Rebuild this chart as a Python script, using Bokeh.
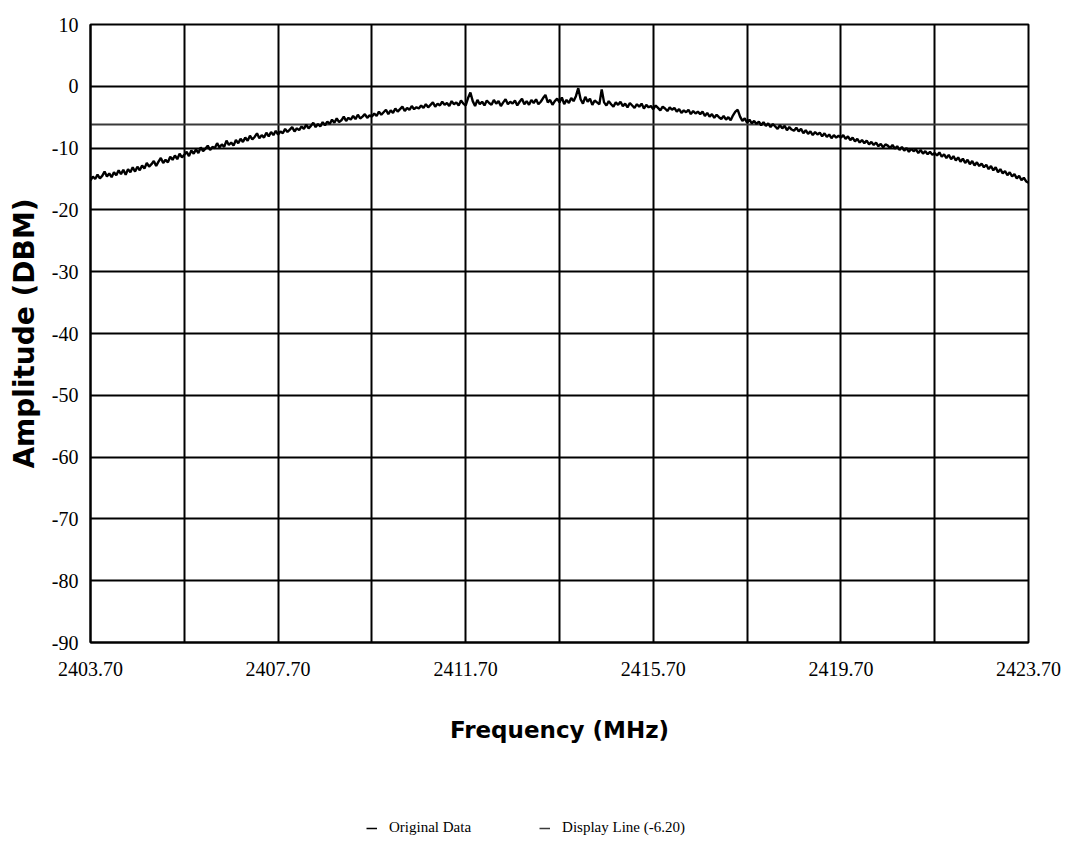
import numpy as np
from bokeh.plotting import figure
from bokeh.layouts import column
from bokeh.models import FixedTicker, Legend, LegendItem, Range1d
from bokeh.embed import file_html
from bokeh.resources import INLINE

# Sweep settings of the analyzer (MHz)
freq_start = 2403.70
freq_stop = 2423.70
freq_step = 0.05

# Measured amplitude (dBm), one reading per sweep point, 1 MHz per row
amplitude = [
    -15.2, -14.6, -15.0, -14.3, -14.9, -14.5, -13.8, -14.6, -14.1, -14.7, -13.9, -14.4, -13.6, -14.2, -13.5, -14.3, -13.4, -13.9, -13.1, -13.8,
    -13.0, -13.6, -12.8, -13.3, -12.4, -13.0, -12.6, -12.1, -12.9, -12.2, -11.6, -12.4, -11.9, -12.3, -11.4, -11.9, -11.2, -11.8, -10.9, -11.5,
    -11.1, -10.6, -11.3, -10.4, -10.9, -10.2, -10.8, -9.9, -10.5, -10.1, -9.6, -10.3, -9.8, -10.0, -9.2, -9.9, -9.4, -9.8, -8.8, -9.5,
    -9.1, -9.6, -8.7, -9.2, -8.5, -9.0, -8.3, -8.8, -8.0, -8.6, -8.2, -7.6, -8.4, -7.9, -8.3, -7.5, -8.1, -7.4, -7.9, -7.2,
    -7.8, -7.3, -7.6, -6.9, -7.4, -7.0, -6.6, -7.3, -6.8, -7.1, -6.5, -6.9, -6.2, -6.8, -6.4, -5.9, -6.6, -6.1, -6.5, -5.8,
    -6.3, -5.7, -6.1, -5.4, -5.9, -5.2, -5.8, -5.5, -4.9, -5.6, -5.1, -5.4, -4.8, -5.3, -4.6, -5.2, -4.9, -4.5, -5.1, -4.7,
    -4.9, -4.4, -4.8, -4.1, -4.6, -4.2, -3.8, -4.5, -3.9, -4.3, -3.6, -4.1, -3.7, -3.3, -4.0, -3.5, -3.8, -3.2, -3.7, -3.4,
    -3.6, -3.1, -3.5, -2.9, -3.4, -3.0, -2.6, -3.3, -2.8, -3.1, -2.5, -3.0, -2.7, -3.2, -2.4, -2.9, -2.6, -3.1, -2.3, -2.8,
    -3.1, -1.9, -1.0, -2.4, -3.2, -2.2, -2.9, -2.5, -3.1, -2.3, -2.7, -3.0, -2.2, -2.8, -2.4, -3.2, -2.6, -2.1, -2.9, -2.5,
    -2.8, -2.3, -3.1, -2.5, -2.0, -2.9, -2.4, -3.0, -2.2, -2.7, -2.1, -2.9, -2.5, -1.9, -1.4, -2.6, -2.2, -3.0, -2.4, -2.0,
    -2.6, -1.8, -2.9, -2.2, -2.7, -1.9, -2.4, -1.6, -0.3, -2.1, -2.8, -1.7, -2.5, -2.0, -3.0, -2.3, -2.6, -2.9, -0.5, -2.6,
    -3.1, -2.4, -2.9, -3.3, -2.6, -3.0, -2.5, -3.2, -2.8, -3.4, -2.7, -3.1, -3.5, -2.9, -3.3, -2.8, -3.6, -3.0, -3.4, -3.2,
    -3.7, -3.1, -3.5, -3.9, -3.3, -3.6, -4.0, -3.4, -3.8, -3.5, -4.1, -3.7, -4.3, -3.9, -4.2, -3.8, -4.5, -4.0, -4.4, -4.1,
    -4.5, -4.1, -4.8, -4.3, -4.9, -4.5, -5.1, -4.6, -5.0, -5.3, -4.8, -5.4, -5.0, -5.5, -4.7, -4.1, -3.8, -4.9, -5.6, -5.2,
    -5.9, -5.4, -6.0, -5.6, -6.1, -5.7, -6.3, -5.8, -6.4, -6.0, -6.6, -6.1, -6.5, -6.9, -6.3, -6.8, -6.4, -7.1, -6.6, -7.0,
    -7.2, -6.7, -7.3, -6.9, -7.6, -7.1, -7.7, -7.3, -7.9, -7.4, -7.8, -7.5, -8.1, -7.6, -8.2, -7.8, -8.4, -7.9, -8.3, -8.0,
    -8.3, -7.9, -8.5, -8.1, -8.7, -8.3, -8.9, -8.5, -9.1, -8.7, -9.2, -8.8, -9.4, -9.0, -9.5, -9.1, -9.7, -9.3, -9.9, -9.4,
    -9.6, -10.0, -9.5, -10.1, -9.7, -10.3, -9.8, -10.4, -10.0, -10.6, -10.1, -10.5, -10.2, -10.8, -10.3, -10.9, -10.5, -11.0, -10.6, -11.1,
    -10.8, -11.2, -10.7, -11.4, -11.0, -11.6, -11.1, -11.8, -11.3, -12.0, -11.5, -12.2, -11.7, -12.4, -11.9, -12.6, -12.1, -12.8, -12.3, -12.9,
    -12.5, -13.1, -12.7, -13.4, -12.9, -13.6, -13.1, -13.9, -13.4, -14.1, -13.7, -14.4, -13.9, -14.6, -14.2, -14.9, -14.5, -15.2, -14.8, -15.4,
    -15.6,
]

# Display line level (dBm)
display_level = -6.20

# Axis ticks
x_label_ticks = [2403.70, 2407.70, 2411.70, 2415.70, 2419.70, 2423.70]
x_tick_labels = ["2403.70", "2407.70", "2411.70", "2415.70", "2419.70", "2423.70"]
x_grid_ticks = [2405.70, 2407.70, 2409.70, 2411.70, 2413.70, 2415.70, 2417.70, 2419.70, 2421.70]
y_ticks = [-90, -80, -70, -60, -50, -40, -30, -20, -10, 0, 10]
y_tick_labels = ["-90", "-80", "-70", "-60", "-50", "-40", "-30", "-20", "-10", "0", "10"]

# Legend texts
legend_labels = ["Original Data", "Display Line (-6.20)"]

freq = np.round(freq_start + freq_step * np.arange(len(amplitude)), 2)

p = figure(
    width=1068, height=760,
    output_backend="svg", toolbar_location=None,
    x_range=Range1d(freq_start, freq_stop), y_range=Range1d(-90, 10),
    min_border_left=90, min_border_right=40, min_border_top=24, min_border_bottom=118,
    background_fill_color="white", border_fill_color="white",
)

p.outline_line_color = "black"
p.outline_line_width = 2

# grid
p.xgrid.ticker = FixedTicker(ticks=x_grid_ticks)
p.ygrid.ticker = FixedTicker(ticks=y_ticks)
for g in (p.xgrid, p.ygrid):
    g.grid_line_color = "black"
    g.grid_line_width = 2
    g.grid_line_alpha = 1.0

# axes
p.xaxis.ticker = FixedTicker(ticks=x_label_ticks)
p.xaxis.major_label_overrides = {t: s for t, s in zip(x_label_ticks, x_tick_labels)}
p.yaxis.ticker = FixedTicker(ticks=y_ticks)
p.yaxis.major_label_overrides = {t: s for t, s in zip(y_ticks, y_tick_labels)}
for ax in (p.xaxis, p.yaxis):
    ax.axis_line_color = "black"
    ax.axis_line_width = 2
    ax.major_tick_in = 0
    ax.major_tick_out = 0
    ax.minor_tick_in = 0
    ax.minor_tick_out = 0
    ax.major_label_text_font = "Liberation Serif"
    ax.major_label_text_font_size = "20px"
    ax.major_label_text_color = "black"
    ax.axis_label_text_font = "DejaVu Sans"
    ax.axis_label_text_font_style = "bold"
    ax.axis_label_text_color = "black"

p.xaxis.axis_label = "Frequency (MHz)"
p.xaxis.axis_label_text_font_size = "23px"
p.xaxis.major_label_standoff = 19
p.xaxis.axis_label_standoff = 38

p.yaxis.axis_label = "Amplitude (DBM)"
p.yaxis.axis_label_text_font_size = "28px"
p.yaxis.major_label_standoff = 12
p.yaxis.axis_label_standoff = 8

# display line and measured trace
p.line(x=[freq_start, freq_stop], y=[display_level, display_level],
       line_color="#3a3a3a", line_width=2)
p.line(x=freq, y=amplitude, line_color="black", line_width=2.4)

# legend strip under the chart (its frame lines up with the chart's frame)
leg = figure(
    width=1068, height=84,
    output_backend="svg", toolbar_location=None,
    x_range=Range1d(0, 1), y_range=Range1d(0, 1),
    min_border=0, background_fill_color="white", border_fill_color="white",
)
leg.axis.visible = False
leg.grid.visible = False
leg.outline_line_color = None
# sample lines kept outside the visible range; only their legend swatches show
k_data = leg.line(x=[-3, -2], y=[-3, -3], line_color="black", line_width=1.5)
k_disp = leg.line(x=[-3, -2], y=[-3, -3], line_color="#3a3a3a", line_width=1.5)

legend = Legend(
    items=[
        LegendItem(label=legend_labels[0], renderers=[k_data]),
        LegendItem(label=legend_labels[1], renderers=[k_disp]),
    ],
    orientation="horizontal",
    location=(276, 8),
    label_text_font="Liberation Serif",
    label_text_font_size="15px",
    label_text_color="black",
    glyph_width=11,
    glyph_height=14,
    label_standoff=12,
    spacing=68,
    padding=0,
    margin=0,
    border_line_color=None,
    background_fill_alpha=0,
)
leg.add_layout(legend)

open("out.html", "w").write(file_html(column(p, leg, spacing=0), INLINE))
